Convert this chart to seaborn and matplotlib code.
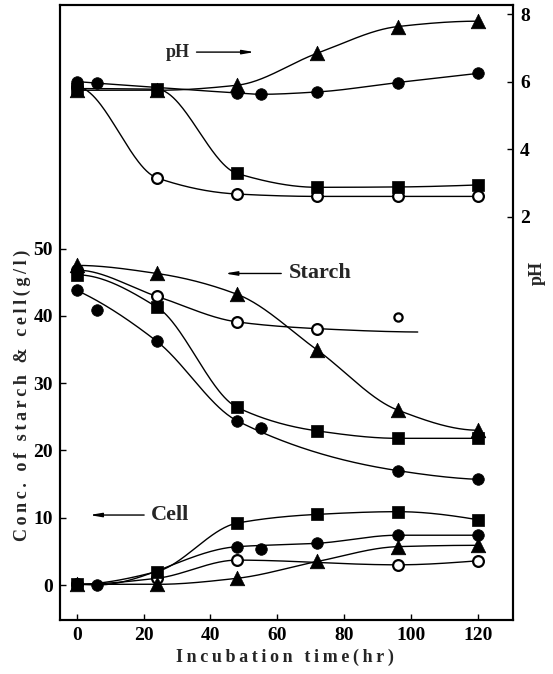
import numpy as np
import pandas as pd
import matplotlib
matplotlib.use("Agg")
import matplotlib.pyplot as plt
import seaborn as sns

# ---------------- data ----------------
# pH (right axis)
ph_tri_t = [0, 24, 48, 72, 96, 120]
ph_tri = [5.75, 5.75, 5.9, 6.85, 7.64, 7.8]
ph_dot_t = [0, 6, 48, 55, 72, 96, 120]
ph_dot = [6.0, 5.96, 5.67, 5.63, 5.7, 5.98, 6.25]
ph_sq_t = [0, 24, 48, 72, 96, 120]
ph_sq = [5.8, 5.78, 3.28, 2.87, 2.88, 2.94]
ph_open_t = [0, 24, 48, 72, 96, 120]
ph_open = [5.85, 3.15, 2.67, 2.6, 2.6, 2.6]

# starch (left axis)
st_tri_t = [0, 24, 48, 72, 96, 120]
st_tri = [47.5, 46.3, 43.2, 34.9, 26.0, 23.0]
st_open_t = [0, 24, 48, 72, 96]
st_open = [46.8, 42.9, 39.1, 38.1, 39.9]
st_open_fit = [True, True, True, True, False]
st_open_line_end = (102, 37.6)
st_sq_t = [0, 24, 48, 72, 96, 120]
st_sq = [46.1, 41.3, 26.4, 22.9, 21.8, 21.8]
st_dot_t = [0, 6, 24, 48, 55, 96, 120]
st_dot = [43.8, 40.8, 36.2, 24.4, 23.4, 17.0, 15.7]
st_dot_fit = [True, False, True, True, False, True, True]

# cell (left axis)
ce_sq_t = [0, 24, 48, 72, 96, 120]
ce_sq = [0.1, 2.0, 9.2, 10.5, 10.9, 9.7]
ce_dot_t = [0, 6, 48, 55, 72, 96, 120]
ce_dot = [0.1, 0.0, 5.7, 5.3, 6.2, 7.4, 7.4]
ce_dot_fit = [True, True, True, False, True, True, True]
ce_open_t = [0, 24, 48, 96, 120]
ce_open = [0.1, 1.0, 3.7, 3.0, 3.6]
ce_tri_t = [0, 24, 48, 72, 96, 120]
ce_tri = [0.1, 0.1, 1.0, 3.5, 5.7, 5.9]

x_ticks = [0, 20, 40, 60, 80, 100, 120]
y_ticks = [0, 10, 20, 30, 40, 50]
ph_ticks = [2, 4, 6, 8]


def pchip(x, y, xn, flat_start=True):
    x = np.asarray(x, float)
    y = np.asarray(y, float)
    h = np.diff(x)
    d = np.diff(y) / h
    n = len(x)
    m = np.zeros(n)
    for k in range(1, n - 1):
        if d[k - 1] * d[k] <= 0:
            m[k] = 0.0
        else:
            w1 = 2 * h[k] + h[k - 1]
            w2 = h[k] + 2 * h[k - 1]
            m[k] = (w1 + w2) / (w1 / d[k - 1] + w2 / d[k])
    if n > 2:
        m0 = ((2 * h[0] + h[1]) * d[0] - h[0] * d[1]) / (h[0] + h[1])
        if np.sign(m0) != np.sign(d[0]):
            m0 = 0.0
        m[0] = 0.0 if flat_start else m0
        mn = ((2 * h[-1] + h[-2]) * d[-1] - h[-1] * d[-2]) / (h[-1] + h[-2])
        if np.sign(mn) != np.sign(d[-1]):
            mn = 0.0
        m[-1] = mn
    else:
        m[:] = d[0]
    xn = np.asarray(xn, float)
    idx = np.clip(np.searchsorted(x, xn) - 1, 0, n - 2)
    t = (xn - x[idx]) / h[idx]
    h00 = 2 * t**3 - 3 * t**2 + 1
    h10 = t**3 - 2 * t**2 + t
    h01 = -2 * t**3 + 3 * t**2
    h11 = t**3 - t**2
    return h00 * y[idx] + h10 * h[idx] * m[idx] + h01 * y[idx + 1] + h11 * h[idx] * m[idx + 1]


sns.set_style("ticks")
plt.rcParams["font.family"] = ["Liberation Serif", "DejaVu Serif"]
plt.rcParams["font.weight"] = "bold"

fig = plt.figure(figsize=(5.53, 6.74), dpi=100)
ax = fig.add_axes([60 / 553, 54 / 674, 453 / 553, 615 / 674])
ax2 = ax.twinx()

LW = 1.0


def curve(axis, t, v, fit=None, extra=None, flat_start=True):
    t = np.asarray(t, float)
    v = np.asarray(v, float)
    if fit is not None:
        f = np.asarray(fit, bool)
        t, v = t[f], v[f]
    if extra is not None:
        t = np.append(t, extra[0])
        v = np.append(v, extra[1])
    xs = np.linspace(t[0], t[-1], 300)
    ys = pchip(t, v, xs, flat_start=flat_start)
    sns.lineplot(x=xs, y=ys, ax=axis, color="black", lw=LW, estimator=None, sort=False)


def pts(axis, t, v, marker, filled=True, size=80):
    sns.scatterplot(x=t, y=v, ax=axis, marker=marker, s=size,
                    color="black" if filled else "white",
                    edgecolor="black", linewidth=1.6 if not filled else 0.5,
                    zorder=5)

# pH curves
curve(ax2, ph_tri_t, ph_tri)
curve(ax2, ph_dot_t, ph_dot)
curve(ax2, ph_sq_t, ph_sq)
curve(ax2, ph_open_t, ph_open)
pts(ax2, ph_open_t, ph_open, "o", filled=False, size=60)
pts(ax2, ph_dot_t, ph_dot, "o", size=70)
pts(ax2, ph_sq_t, ph_sq, "s", size=75)
pts(ax2, ph_tri_t, ph_tri, "^", size=110)

# starch
curve(ax, st_tri_t, st_tri)
curve(ax, st_open_t, st_open, fit=st_open_fit, extra=st_open_line_end)
curve(ax, st_sq_t, st_sq)
curve(ax, st_dot_t, st_dot, fit=st_dot_fit, flat_start=False)
pts(ax, st_open_t[:-1], st_open[:-1], "o", filled=False, size=60)
pts(ax, st_open_t[-1:], st_open[-1:], "o", filled=False, size=35)
pts(ax, st_dot_t, st_dot, "o", size=70)
pts(ax, st_sq_t, st_sq, "s", size=75)
pts(ax, st_tri_t, st_tri, "^", size=110)

# cell
curve(ax, ce_sq_t, ce_sq)
curve(ax, ce_dot_t, ce_dot, fit=ce_dot_fit)
curve(ax, ce_open_t, ce_open)
curve(ax, ce_tri_t, ce_tri)
pts(ax, ce_open_t, ce_open, "o", filled=False, size=60)
pts(ax, ce_dot_t, ce_dot, "o", size=70)
pts(ax, ce_sq_t, ce_sq, "s", size=75)
pts(ax, ce_tri_t, ce_tri, "^", size=110)

ax.set_xlim(-5, 130.5)
ax.set_ylim(-5.2, 86.2)
ax2.set_ylim(-9.97, 8.28)
ax.set_xticks(x_ticks)
ax.set_yticks(y_ticks)
ax2.set_yticks(ph_ticks)

for a in (ax, ax2):
    for s in a.spines.values():
        s.set_visible(True)
        s.set_linewidth(1.5)
        s.set_color("black")
ax.tick_params(axis="both", direction="in", length=4, width=1, labelsize=14, colors="black", pad=5)
ax2.tick_params(axis="y", direction="in", length=4, width=1, labelsize=14, colors="black", pad=5)
for lab in ax.get_xticklabels() + ax.get_yticklabels() + ax2.get_yticklabels():
    lab.set_fontweight("bold")


def spaced(s):
    return "\u2009".join(s)


ax.set_xlabel("")
ax.set_ylabel("")
ax2.set_ylabel("")
fig.text(285 / 553, 1 - 657 / 674, spaced("Incubation time(hr)"),
         ha="center", va="center", fontsize=13, fontweight="bold")
fig.text(22 / 553, 1 - 395 / 674, spaced("Conc. of starch & cell(g/l)"), rotation=90,
         ha="center", va="center", fontsize=13, fontweight="bold")
fig.text(537 / 553, 1 - 273 / 674, "pH", rotation=90, ha="center", va="center",
         fontsize=13, fontweight="bold")

arrow = dict(arrowstyle="-|>,head_length=0.7,head_width=0.12", color="black", lw=1.0)
ax.text(33.8, 79.2, "pH", fontsize=13, fontweight="bold", ha="right", va="center")
ax.annotate("", xy=(54, 79.2), xytext=(35, 79.2), arrowprops=arrow)
ax.annotate("", xy=(43.5, 46.3), xytext=(62, 46.3), arrowprops=arrow)
ax.text(63.5, 46.3, "Starch", fontsize=16, fontweight="bold", ha="left", va="center")
ax.annotate("", xy=(3.0, 10.4), xytext=(21, 10.4), arrowprops=arrow)
ax.text(22.3, 10.4, "Cell", fontsize=16, fontweight="bold", ha="left", va="center")

fig.savefig("out.png", dpi=100)
